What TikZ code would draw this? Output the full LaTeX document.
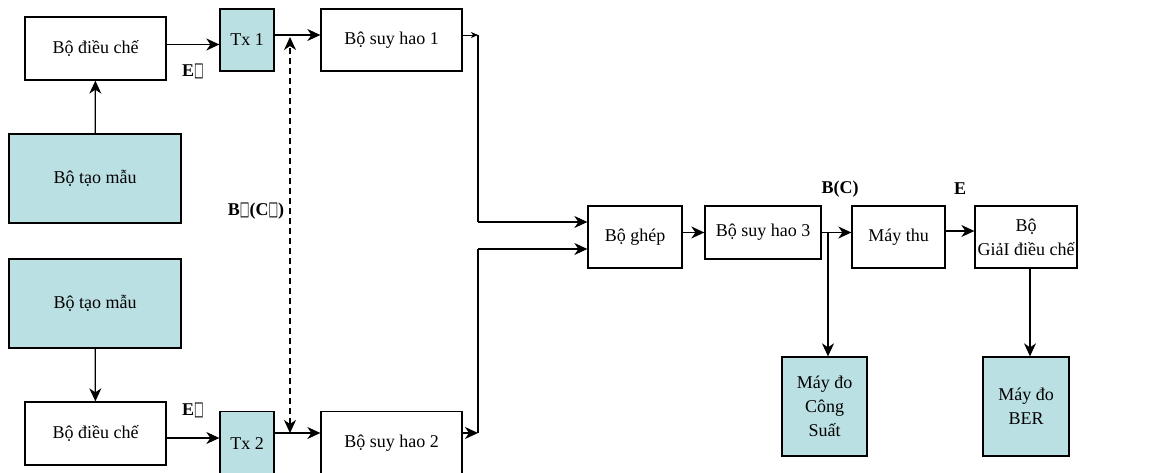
\documentclass[tikz,border=0pt]{standalone}
\usepackage{fontspec}
\usepackage{graphicx}
\setmainfont{Liberation Serif}
\newfontfamily\symfont{DejaVu Sans}
\usetikzlibrary{arrows.meta}
\definecolor{maunen}{HTML}{BBE0E3}
\newcommand{\nochar}{{\symfont\fontsize{17}{17}\selectfont\scalebox{0.6}[1.15]{□}}}

\begin{document}
\begin{tikzpicture}[x=1pt, y=-1pt, line width=1.3pt,
    font=\fontsize{18}{24}\selectfont,
    blk/.style={draw, fill=white, inner sep=0pt, align=center},
    mblk/.style={blk, fill=maunen},
    lbl/.style={font=\fontsize{18}{24}\selectfont\bfseries, inner sep=0pt},
    >={Stealth[length=13pt, width=12pt, inset=4pt]}]
  \useasboundingbox (0,0) rectangle (1165,472);

  % Nodes
  \node[blk, minimum width=141pt, minimum height=63pt] at (95.5,48.5) (mod1) {Bộ điều chế};
  \node[mblk, minimum width=172pt, minimum height=89pt] at (95,178.5) (gen1) {Bộ tạo mẫu};
  \node[mblk, minimum width=54pt, minimum height=62pt] at (247,40) (tx1) {Tx 1};
  \node[blk, minimum width=141pt, minimum height=62pt] at (391.5,40) (att1) {Bộ suy hao 1};

  \node[mblk, minimum width=172pt, minimum height=89pt] at (95,303.5) (gen2) {Bộ tạo mẫu};
  \node[blk, minimum width=141pt, minimum height=63pt] at (95.5,433.5) (mod2) {Bộ điều chế};
  \node[mblk, minimum width=54pt, minimum height=64pt, anchor=north] at (247,411) (tx2) {Tx 2};
  \node[blk, minimum width=141pt, minimum height=64pt, anchor=north] at (391.5,411) (att2) {Bộ suy hao 2};

  \node[blk, minimum width=94pt, minimum height=62pt] at (635,237) (ghep) {Bộ ghép};
  \node[blk, minimum width=116pt, minimum height=53pt] at (763,232.5) (att3) {Bộ suy hao 3};
  \node[blk, minimum width=93pt, minimum height=62pt] at (898.5,237) (thu) {Máy thu};
  \node[blk, minimum width=102pt, minimum height=62pt] at (1026,237) (giai) {Bộ\\GiảI điều chế};
  \node[mblk, minimum width=85pt, minimum height=99pt] at (824.5,406.5) (pwr) {Máy đo\\Công\\Suất};
  \node[mblk, minimum width=86pt, minimum height=99pt] at (1026,406.5) (ber) {Máy đo\\BER};

  % Labels
  \node[lbl] at (193,71) (e1) {E\nochar};
  \node[lbl] at (193,410) (e2) {E\nochar};
  \node[lbl] at (256,211) (bc1) {B\nochar(C\nochar)};
  \node[lbl] at (840,189) (bc2) {B(C)};
  \node[lbl] at (960,189) (e3) {E};

  % Corners
  \coordinate (dtop) at (290,37);
  \coordinate (dbot) at (290,433);
  \coordinate (c1) at (478,35);
  \coordinate (c2) at (478,222);
  \coordinate (c3) at (478,433);
  \coordinate (c4) at (478,249);
  \coordinate (tap) at (828,232.5);

  % Connectors
  \draw[->] (gen1) -- (mod1);
  \draw[->] (gen2) -- (mod2);
  \draw[->] ([yshift=4pt]mod1.east) -- ([yshift=4pt]mod1.east -| tx1.west);
  \draw[->] ([yshift=-4.5pt]mod2.east) -- ([yshift=-4.5pt]mod2.east -| tx2.west);
  \draw[->] ([yshift=5pt]tx1.east) -- ([yshift=5pt]att1.west);
  \draw[->] (tx2.east |- dbot) -- (att2.west |- dbot);
  \draw[<->, line width=1.1pt, dash pattern=on 6pt off 4pt] (dbot) -- (dtop);

  \draw[-{Stealth[length=7pt, width=6pt, inset=2pt]}, line width=0.9pt] (att1.east |- c1) -- (c1);
  \draw (c1) -- (c2);
  \draw[->] (c2) -- (c2 -| ghep.west);
  \draw[->] (att2.east |- c3) -- (c3);
  \draw (c3) -- (c4);
  \draw[->] (c4) -- (c4 -| ghep.west);

  \draw[->] (att3.west -| ghep.east) -- (att3.west);
  \draw[->] (att3.east) -- (att3.east -| thu.west);
  \draw[->] (tap) -- (tap |- pwr.north);
  \draw[->] ([yshift=6pt]thu.east) -- ([yshift=6pt]thu.east -| giai.west);
  \draw[->] ([xshift=4pt]giai.south) -- ([xshift=4pt]giai.south |- ber.north);
\end{tikzpicture}
\end{document}
